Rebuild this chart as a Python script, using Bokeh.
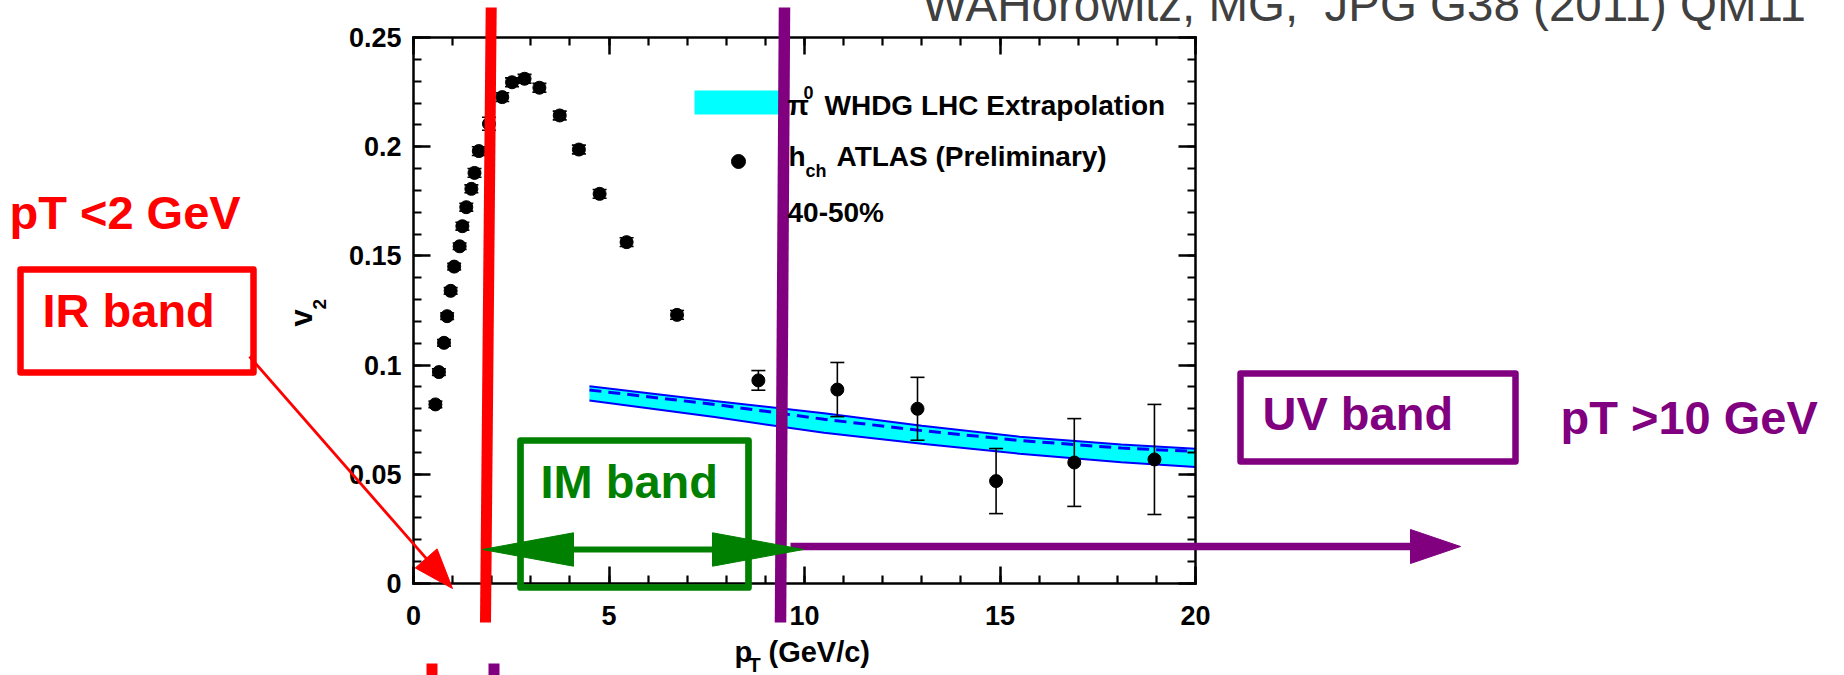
import math
from bokeh.plotting import figure
from bokeh.models import Range1d, LinearAxis, FixedTicker, CustomJSTickFormatter
from bokeh.core.properties import value
from bokeh.embed import file_html
from bokeh.resources import INLINE

# ---------------- data ----------------
pt_hch = [0.56, 0.65, 0.78, 0.86, 0.95, 1.04, 1.18, 1.25, 1.35, 1.48, 1.56, 1.67,
          1.93, 2.27, 2.52, 2.84, 3.22, 3.74, 4.23, 4.76, 5.45, 6.74, 8.82,
          10.84, 12.89, 14.90, 16.90, 18.95]
v2_hch = [0.0820, 0.0968, 0.1102, 0.1224, 0.1340, 0.1451, 0.1544, 0.1636, 0.1723,
          0.1807, 0.1880, 0.1980, 0.2105, 0.2227, 0.2295, 0.2311, 0.2270, 0.2143,
          0.1987, 0.1784, 0.1563, 0.1230, 0.0930, 0.0888, 0.0800, 0.0469, 0.0554,
          0.0568]
err_hch = [0.0015, 0.0015, 0.0015, 0.0015, 0.0015, 0.0015, 0.0015, 0.0018, 0.0018,
           0.0018, 0.0020, 0.0020, 0.0030, 0.0020, 0.0020, 0.0020, 0.0020, 0.0020,
           0.0020, 0.0020, 0.0020, 0.0020, 0.0045, 0.0124, 0.0144, 0.0149, 0.0201,
           0.0252]

band_pt = [4.5, 7.7, 10.5, 13.0, 15.5, 18.1, 20.0]
band_hi = [0.0903, 0.0836, 0.0780, 0.0722, 0.0672, 0.0636, 0.0617]
band_lo = [0.0838, 0.0762, 0.0690, 0.0640, 0.0594, 0.0555, 0.0533]
band_mid = [0.0886, 0.0820, 0.0752, 0.0700, 0.0655, 0.0620, 0.0605]

x_ticks = [0, 5, 10, 15, 20]
x_tick_labels = ["0", "5", "10", "15", "20"]
x_minor = list(range(0, 21))
y_ticks = [0.0, 0.05, 0.1, 0.15, 0.2, 0.25]
y_tick_labels = ["0", "0.05", "0.1", "0.15", "0.2", "0.25"]
y_minor = [i / 100 for i in range(0, 26)]

legend_texts = ["WHDG LHC Extrapolation", "ATLAS (Preliminary)", "40-50%"]
title_text = "WAHorowitz, MG, \u00a0JPG G38 (2011) QM11"

# ---------------- page geometry ----------------
W, H = 1844, 675
X0, SX = 413.0, 39.1      # pixel of x=0, pixels per GeV/c
Y0, SY = 583.0, 2184.0    # pixel of v2=0, pixels per unit v2


def fx(X):
    return (X - X0) / SX


def fy(Y):
    return (Y0 - Y) / SY


p = figure(width=W, height=H,
           x_range=Range1d(fx(0), fx(W)), y_range=Range1d(fy(H), fy(0)),
           output_backend="svg", toolbar_location=None,
           x_axis_location=None, y_axis_location=None,
           min_border=0, min_border_left=0, min_border_right=0,
           min_border_top=0, min_border_bottom=0,
           outline_line_color=None, background_fill_color="white",
           border_fill_color="white")
p.title.visible = False
for g in p.grid:
    g.visible = False

FONT = value("Liberation Sans")


def style_axis(ax, labels):
    ax.axis_line_width = 2.5
    ax.axis_line_color = "black"
    ax.axis_line_cap = "square"
    ax.major_tick_line_width = 2.5
    ax.minor_tick_line_width = 2.2
    ax.major_tick_in = 17
    ax.major_tick_out = 0
    ax.minor_tick_in = 8
    ax.minor_tick_out = 0
    ax.major_label_text_font = "Liberation Sans"
    ax.major_label_text_font_style = "bold"
    ax.major_label_text_font_size = "27px"
    ax.major_label_text_color = "black" if labels else None


xt = FixedTicker(ticks=x_ticks, minor_ticks=x_minor)
yt = FixedTicker(ticks=y_ticks, minor_ticks=y_minor)
lab_code = ("const i = tv.findIndex(t => Math.abs(t - tick) < 1e-9);"
            "return i >= 0 ? labels[i] : '';")
xfmt = CustomJSTickFormatter(args=dict(tv=x_ticks, labels=x_tick_labels), code=lab_code)
yfmt = CustomJSTickFormatter(args=dict(tv=y_ticks, labels=y_tick_labels), code=lab_code)
blank = CustomJSTickFormatter(code="return '';")

ax_b = LinearAxis(fixed_location=0, bounds=(0, 20), ticker=xt, formatter=xfmt)
style_axis(ax_b, True)
ax_b.major_label_standoff = 22
p.add_layout(ax_b, "below")

ax_t = LinearAxis(fixed_location=0.25, bounds=(0, 20), ticker=xt, formatter=blank)
style_axis(ax_t, False)
p.add_layout(ax_t, "above")

ax_l = LinearAxis(fixed_location=0, bounds=(0, 0.25), ticker=yt, formatter=yfmt)
style_axis(ax_l, True)
ax_l.major_label_standoff = 12
p.add_layout(ax_l, "left")

ax_r = LinearAxis(fixed_location=20, bounds=(0, 0.25), ticker=yt, formatter=blank)
style_axis(ax_r, False)
p.add_layout(ax_r, "right")

# ---------------- theory band ----------------
p.varea(x=band_pt, y1=band_lo, y2=band_hi, fill_color="#00ffff")
p.line(band_pt, band_hi, line_color="#0000ff", line_width=2)
p.line(band_pt, band_lo, line_color="#0000ff", line_width=2)
p.line(band_pt, band_mid, line_color="#0000ff", line_width=3, line_dash="12 7")

# ---------------- data points ----------------
lo = [v - e for v, e in zip(v2_hch, err_hch)]
hi = [v + e for v, e in zip(v2_hch, err_hch)]
p.segment(x0=pt_hch, y0=lo, x1=pt_hch, y1=hi, line_color="black", line_width=1.6)
p.scatter(pt_hch, lo, marker="dash", size=14, line_color="black", line_width=1.6)
p.scatter(pt_hch, hi, marker="dash", size=14, line_color="black", line_width=1.6)
p.scatter(pt_hch, v2_hch, marker="circle", size=13, fill_color="black", line_color="black")

# ---------------- helpers for annotations (pixel positions) ----------------
BASE_SHIFT = 0.345  # correction so that (X, Y) is the alphabetic baseline


def txt(X, Y, s, size, color="black", style="bold", rotated=False, font=FONT):
    if rotated:
        ax_, ay_ = X - BASE_SHIFT * size, Y
        ang = math.pi / 2
    else:
        ax_, ay_ = X, Y - BASE_SHIFT * size
        ang = 0.0
    p.text(x=[fx(ax_)], y=[fy(ay_)], text=[s], text_font=font,
           text_font_size=f"{size}px", text_font_style=style, text_color=color,
           angle=ang, text_align="left", text_baseline="alphabetic",
           level="annotation")


def box(Xl, Xr, Yt, Yb, color, lw):
    p.quad(left=[fx(Xl)], right=[fx(Xr)], top=[fy(Yt)], bottom=[fy(Yb)],
           fill_color=None, line_color=color, line_width=lw, line_join="round",
           level="annotation")


def seg(Xa, Ya, Xb, Yb, color, lw):
    p.line([fx(Xa), fx(Xb)], [fy(Ya), fy(Yb)], line_color=color, line_width=lw,
           level="annotation")


def head(tx, ty, sx, sy, length, half, color):
    dx, dy = tx - sx, ty - sy
    L = math.hypot(dx, dy)
    ux, uy = dx / L, dy / L
    bx, by = tx - ux * length, ty - uy * length
    nx, ny = -uy, ux
    xs = [tx, bx + nx * half, bx - nx * half]
    ys = [ty, by + ny * half, by - ny * half]
    p.patch([fx(v) for v in xs], [fy(v) for v in ys], fill_color=color,
            line_color=color, line_width=1, level="annotation")


# legend (ROOT style, no frame)
p.quad(left=[fx(694)], right=[fx(784)], top=[fy(90)], bottom=[fy(114)],
       fill_color="#00ffff", line_color=None, level="annotation")
p.scatter([fx(738)], [fy(161)], marker="circle", size=14, fill_color="black",
          line_color="black", level="annotation")

# vertical band limits
p.line([fx(490.7), fx(485.0)], [fy(7), fy(622)], line_color="#ff0000",
       line_width=11, level="annotation")
p.line([fx(784.0), fx(780.0)], [fy(7), fy(622)], line_color="#800080",
       line_width=11.5, level="annotation")
p.quad(left=[fx(426)], right=[fx(437)], top=[fy(663)], bottom=[fy(700)],
       fill_color="#ff0000", line_color=None, level="annotation")
p.quad(left=[fx(488)], right=[fx(499)], top=[fy(663)], bottom=[fy(700)],
       fill_color="#800080", line_color=None, level="annotation")

# legend texts
txt(787, 115, "\u03c0", 28)
txt(803, 98, "0", 18)
txt(824, 115, legend_texts[0], 28)
txt(788, 166, "h", 28)
txt(805, 177, "ch", 18)
txt(836, 166, legend_texts[1], 28)
txt(787, 222, legend_texts[2], 28)

# axis titles
txt(734, 662, "p", 29)
txt(748, 671, "T", 20)
txt(768, 662, "(GeV/c)", 29)
txt(312, 326, "v", 31, rotated=True)
txt(326, 309, "2", 19, rotated=True)

# title
txt(922, 20, title_text, 47.5, color="#404040", style="normal")

# IR band
txt(9, 228, "pT <2 GeV", 47, color="#ff0000")
box(20, 253, 269, 372, "#ff0000", 6.5)
txt(42, 326, "IR band", 47, color="#ff0000")
seg(249, 356, 452 - 0.658 * 30, 588 - 0.752 * 30, "#ff0000", 2.8)
head(452, 588, 249, 356, 40, 14.5, "#ff0000")

# UV band
box(1240, 1515, 373, 461, "#800080", 6.5)
txt(1262, 429, "UV band", 47, color="#800080")
txt(1560, 433, "pT >10 GeV", 47, color="#800080")
seg(790, 546, 1415, 546, "#800080", 7.5)
head(1460, 546, 790, 546, 50, 17, "#800080")

# IM band
box(520, 748, 440, 587, "#008000", 6.7)
txt(540, 497, "IM band", 47, color="#008000")
seg(540, 549, 750, 549, "#008000", 6)
head(482, 549, 803, 549, 91, 16.7, "#008000")
head(803, 549, 482, 549, 91, 16.7, "#008000")

open("out.html", "w").write(file_html(p, INLINE))
